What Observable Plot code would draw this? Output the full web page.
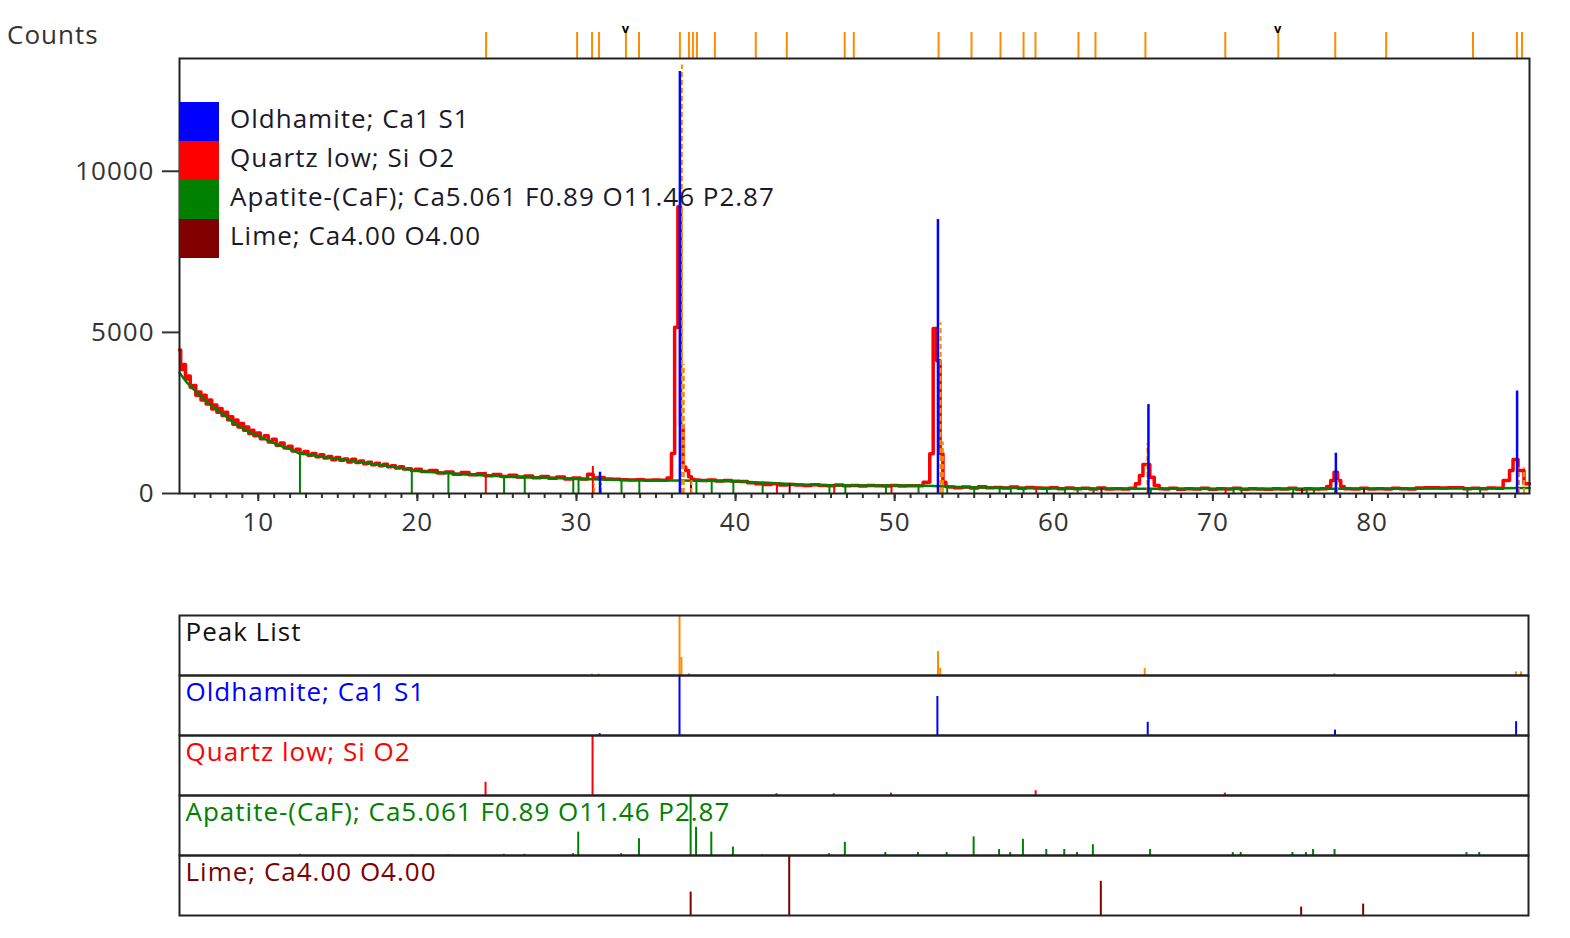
<!DOCTYPE html>
<html>
<head>
<meta charset="utf-8">
<script src="https://cdn.jsdelivr.net/npm/d3@7"></script>
<script src="https://cdn.jsdelivr.net/npm/@observablehq/plot@0.6"></script>
<style>
  html, body { margin: 0; padding: 0; background: #fff; }
  #wrap { position: relative; width: 1570px; height: 938px; font-family: "Open Sans", "Noto Sans", sans-serif; color: #222; letter-spacing: 1px; }
  #counts { position: absolute; left: 7px; top: 16px; font-size: 26px; color: #333; }
  #main { position: absolute; left: 0; top: 0; }
  #panels { position: absolute; left: 0; top: 612px; }
  #legend { position: absolute; left: 179px; top: 102px; }
  .row { display: flex; align-items: center; height: 39px; }
  .sw { width: 40px; height: 39px; }
  .lab { margin-left: 11px; font-size: 26px; color: #1a1a2a; white-space: nowrap; margin-top: -7px; }
  svg text { font-family: "Open Sans", "Noto Sans", sans-serif; letter-spacing: 1px; }
</style>
</head>
<body>
<div id="wrap">
  <div id="counts">Counts</div>
  <div id="main"></div>
  <div id="legend"></div>
  <div id="panels"></div>
</div>
<script>
// ---------------- data ----------------
const xDomain = [5.05, 89.9];
const yTicks = [0, 5000, 10000];
const xMajorTicks = [10, 20, 30, 40, 50, 60, 70, 80];

const phaseNames = ["Oldhamite; Ca1 S1", "Quartz low; Si O2", "Apatite-(CaF); Ca5.061 F0.89 O11.46 P2.87", "Lime; Ca4.00 O4.00"];
const phaseColors = ["#0000ff", "#ff0000", "#008000", "#800000"];
const peakListName = "Peak List";
const peakListColor = "#ff8c00";

// observed scan [2theta, counts]
const observedScan = [
  [5.05,4450],[5.2,3850],[5.35,4000],[5.5,3550],[5.65,3650],[5.8,3300],[6.0,3350],[6.15,3050],[6.3,3150],[6.5,2900],
  [6.65,3050],[6.8,2780],[7.0,2900],[7.15,2620],[7.3,2750],[7.5,2520],[7.65,2640],[7.8,2420],[8.0,2520],[8.15,2290],
  [8.3,2380],[8.5,2150],[8.65,2280],[8.8,2060],[9.0,2170],[9.15,1960],[9.3,2060],[9.5,1860],[9.65,1960],[9.8,1790],
  [10.0,1880],[10.25,1700],[10.5,1790],[10.75,1600],[11.0,1680],[11.25,1500],[11.5,1570],[11.75,1410],[12.0,1470],[12.25,1320],
  [12.5,1370],[12.75,1240],[13.0,1300],[13.25,1190],[13.5,1240],[13.75,1140],[14.0,1200],[14.25,1100],[14.5,1150],[14.75,1050],
  [15.0,1120],[15.25,1030],[15.5,1070],[15.75,980],[16.0,1060],[16.25,960],[16.5,1010],[16.75,920],[17.0,970],[17.25,890],
  [17.5,940],[17.75,860],[18.0,910],[18.25,830],[18.5,860],[18.75,790],[19.0,830],[19.25,760],[19.5,770],[19.75,710],
  [20.0,750],[20.5,680],[21.0,710],[21.5,640],[22.0,670],[22.5,600],[23.0,650],[23.5,580],[24.0,610],[24.5,550],
  [25.0,590],[25.5,530],[26.0,570],[26.5,510],[27.0,540],[27.5,490],[28.0,530],[28.5,470],[29.0,510],[29.5,450],
  [30.0,480],[30.5,450],[30.9,600],[31.2,480],[31.5,500],[32.0,450],[32.5,440],[33.0,430],[33.5,420],[34.0,430],
  [34.5,410],[35.0,420],[35.5,410],[35.88,480],[36.06,1240],[36.28,5160],[36.47,8900],[36.62,2110],[36.78,820],
  [36.95,715],[37.15,520],[37.3,440],[37.5,420],[38.0,400],[38.5,420],[39.0,390],[39.5,400],[40.0,380],[40.5,370],
  [41.0,330],[41.5,300],[42.0,280],[42.5,300],[43.0,260],[43.5,280],[44.0,260],[44.5,250],[45.0,270],[45.5,250],
  [46.0,240],[46.5,260],[47.0,240],[47.5,250],[48.0,230],[48.5,250],[49.0,240],[49.5,230],[50.0,250],[50.5,230],
  [51.0,240],[51.5,240],[52.08,350],[52.33,1230],[52.51,5120],[52.78,4120],[52.93,1230],[53.14,350],[53.3,210],[53.5,200],
  [54.0,180],[54.5,200],[55.0,170],[55.5,210],[56.0,180],[56.5,190],[57.0,170],[57.5,200],[58.0,160],[58.5,190],
  [59.0,170],[59.5,160],[60.0,180],[60.5,150],[61.0,170],[61.5,150],[62.0,160],[62.5,140],[63.0,170],[63.5,140],
  [64.0,150],[64.5,140],[65.0,160],[65.26,300],[65.51,560],[65.7,900],[65.89,900],[66.18,505],[66.45,250],[66.8,150],
  [67.0,140],[67.5,160],[68.0,130],[68.5,150],[69.0,140],[69.5,160],[70.0,130],[70.5,150],[71.0,140],[71.5,160],
  [72.0,130],[72.5,150],[73.0,140],[73.5,130],[74.0,150],[74.5,140],[75.0,160],[75.5,130],[76.0,150],[76.5,140],
  [77.0,150],[77.31,220],[77.5,400],[77.73,660],[77.94,400],[78.13,220],[78.38,150],[79.0,140],[79.5,160],[80.0,140],
  [80.5,150],[81.0,140],[81.5,160],[82.0,150],[82.5,140],[83.0,170],[83.5,175],[84.0,175],[84.5,170],[85.0,175],
  [85.5,175],[86.0,150],[86.5,160],[87.0,150],[87.5,170],[88.0,160],[88.49,400],[88.8,715],[88.93,1055],[89.43,715],
  [89.68,300],[89.9,300]
];

// fitted background [2theta, counts]
const backgroundLine = [
  [5.05,3750],[5.5,3450],[6.0,3200],[6.5,2960],[7.0,2750],[7.5,2560],[8.0,2380],[8.5,2180],[9.0,2030],[9.5,1890],
  [10.0,1780],[10.5,1670],[11.0,1560],[11.5,1460],[12.0,1380],[12.5,1260],[13.0,1220],[13.5,1180],[14.0,1140],[14.5,1100],
  [15.0,1070],[16.0,1000],[17.0,930],[18.0,860],[19.0,780],[20.0,700],[21.0,660],[22.0,630],[23.0,590],[24.0,570],
  [25.0,540],[26.0,515],[27.0,500],[28.0,490],[29.0,470],[30.0,450],[31.0,440],[32.0,430],[33.0,420],[34.0,415],
  [35.0,405],[36.0,400],[38.0,395],[40.0,380],[42.0,330],[44.0,280],[46.0,255],[48.0,250],[50.0,250],[52.0,240],
  [54.0,200],[56.0,180],[58.0,170],[60.0,160],[62.0,150],[64.0,145],[66.0,145],[68.0,145],[70.0,140],[72.0,140],
  [74.0,140],[76.0,140],[78.0,145],[80.0,145],[82.0,150],[84.0,155],[86.0,160],[88.0,165],[89.9,170]
];

// Peak list: position, counts
const peakPositions = [30.98, 31.42, 36.5, 36.62, 37.1, 52.76, 52.9, 65.76, 77.69, 89.11, 89.43];
const peakCounts    = [300,   300,   13300, 4000, 400,  5300,  1600, 1540,  400,   800,   800];

// Marker row above plot (peak positions)
const markerPositions = [24.32, 30.04, 30.98, 31.42, 33.11, 33.93, 36.5, 37.07, 37.32, 37.57, 38.7, 41.27, 43.22, 46.86, 47.43,
  52.76, 54.83, 56.65, 58.1, 58.85, 61.55, 62.62, 65.76, 70.78, 74.11, 77.69, 80.89, 86.35, 89.11, 89.43];
const flagPositions = [33.11, 74.11];

// Reference phases: position, relative intensity (%), top in counts for main plot
const oldhamitePos = [31.48, 36.5, 52.72, 65.95, 77.73, 89.12];
const oldhamiteRel = [3, 100, 65, 22, 9, 23];
const oldhamiteTop = [660, 13100, 8500, 2760, 1250, 3180];

const quartzPos = [24.3, 31.03, 42.6, 46.2, 49.8, 58.9, 70.8];
const quartzRel = [22, 100, 3, 3, 4, 8, 4];
const quartzTop = [660, 840, 330, 270, 260, 200, 160];

const apatitePos = [12.62, 19.65, 21.95, 25.45, 26.75, 29.8, 30.13, 32.83, 33.95, 37.2, 37.54, 38.5, 39.86, 41.7, 45.9, 46.9,
  49.45, 51.5, 53.3, 55.0, 56.6, 57.3, 58.1, 59.57, 60.7, 61.5, 62.5, 66.1, 71.3, 71.8, 75.05, 75.9, 76.35, 77.7, 86.0, 86.8];
const apatiteRel = [2, 1, 1, 2, 2, 3, 39, 3, 28, 100, 47, 39, 14, 1, 3, 22,
  5, 5, 5, 31, 10, 5, 27, 10, 10, 5, 18, 10, 5, 5, 5, 5, 10, 10, 5, 5];
const apatiteTop = [1250, 715, 630, 530, 505, 455, 470, 425, 425, 440, 430, 410, 400, 360, 260, 260,
  250, 250, 210, 200, 180, 175, 175, 165, 160, 155, 150, 150, 145, 145, 145, 145, 145, 150, 160, 160];

const limePos = [37.2, 43.4, 63.0, 75.6, 79.5];
const limeRel = [39, 100, 57, 14, 19];
const limeTop = [420, 300, 170, 150, 150];

// ---------------- build ----------------
const font = '"Open Sans", "Noto Sans", sans-serif';
const phases = [
  {pos: oldhamitePos, rel: oldhamiteRel, top: oldhamiteTop},
  {pos: quartzPos, rel: quartzRel, top: quartzTop},
  {pos: apatitePos, rel: apatiteRel, top: apatiteTop},
  {pos: limePos, rel: limeRel, top: limeTop}
].map((p, i) => ({...p, name: phaseNames[i], color: phaseColors[i]}));

const sticks = (p) => p.pos.map((x, j) => ({x, rel: p.rel[j], top: p.top[j], panel: p.name, color: p.color}));
const peakRows = peakPositions.map((x, j) => ({x, top: peakCounts[j], rel: peakCounts[j] / d3.max(peakCounts) * 100, panel: peakListName, color: peakListColor}));

const drawOrder = [2, 1, 3, 0]; // apatite, quartz, lime, oldhamite
const mainStickMarks = drawOrder.map(i => Plot.ruleX(sticks(phases[i]), {x: "x", y1: 0, y2: "top", stroke: phases[i].color, strokeWidth: i === 0 ? 2.5 : 2}));

const main = Plot.plot({
  width: 1570, height: 560,
  marginLeft: 179, marginRight: 41, marginTop: 58, marginBottom: 67,
  x: {domain: xDomain},
  y: {domain: [0, 13500]},
  style: {fontFamily: font, fontSize: "26px", color: "#333", background: "transparent", overflow: "visible"},
  marks: [
    Plot.axisY({ticks: yTicks, tickSize: 17, tickPadding: 8, tickFormat: d3.format("d"), label: null, strokeWidth: 2}),
    Plot.axisX({ticks: d3.range(6, 90), tickSize: 5, tickFormat: () => "", label: null, strokeWidth: 2}),
    Plot.axisX({ticks: xMajorTicks, tickSize: 8, tickPadding: 11, label: null, strokeWidth: 2}),
    Plot.line(observedScan, {x: d => d[0], y: d => d[1], stroke: "#ff0000", strokeWidth: 3.5, curve: "step"}),
    Plot.line(backgroundLine, {x: d => d[0], y: d => d[1], stroke: "#008000", strokeWidth: 2.5}),
    ...mainStickMarks.slice(0, 3),
    Plot.ruleX(peakRows, {x: "x", y1: 0, y2: "top", stroke: peakListColor, strokeWidth: 2, strokeDasharray: "5,3", dx: 2}),
    mainStickMarks[3],
    Plot.ruleX(markerPositions, {x: d => d, stroke: peakListColor, strokeWidth: 2, insetTop: -26, insetBottom: 435}),
    Plot.text(flagPositions, {x: d => d, text: () => "v", frameAnchor: "top", dy: -35, fill: "#000", fontSize: 13, fontWeight: "bold"}),
    Plot.frame({stroke: "#222", strokeWidth: 2})
  ]
});
document.getElementById("main").appendChild(main);

// legend
const legend = document.getElementById("legend");
phaseNames.forEach((n, i) => {
  const row = document.createElement("div");
  row.className = "row";
  row.innerHTML = `<div class="sw" style="background:${phaseColors[i]}"></div><div class="lab">${n}</div>`;
  legend.appendChild(row);
});

// bottom panels
const panelNames = [peakListName, ...phaseNames];
const panelColors = ["#111111", ...phaseColors];
const bottomRows = [...peakRows, ...phases.flatMap(sticks)];

const panels = Plot.plot({
  width: 1570, height: 306,
  marginLeft: 179, marginRight: 42, marginTop: 3, marginBottom: 3,
  x: {domain: xDomain, axis: null},
  y: {domain: [0, 100], axis: null},
  fy: {domain: panelNames, axis: null, padding: 0},
  style: {fontFamily: font, background: "transparent", overflow: "visible"},
  marks: [
    Plot.ruleX(bottomRows, {x: "x", y1: 0, y2: "rel", fy: "panel", stroke: "color", strokeWidth: 2}),
    Plot.text(panelNames, {fy: d => d, text: d => d, frameAnchor: "top-left", dx: 6, dy: 7, lineAnchor: "top",
      fill: (d, i) => panelColors[i], fontSize: 26}),
    Plot.frame({stroke: "#222", strokeWidth: 2})
  ]
});
document.getElementById("panels").appendChild(panels);
</script>
</body>
</html>
